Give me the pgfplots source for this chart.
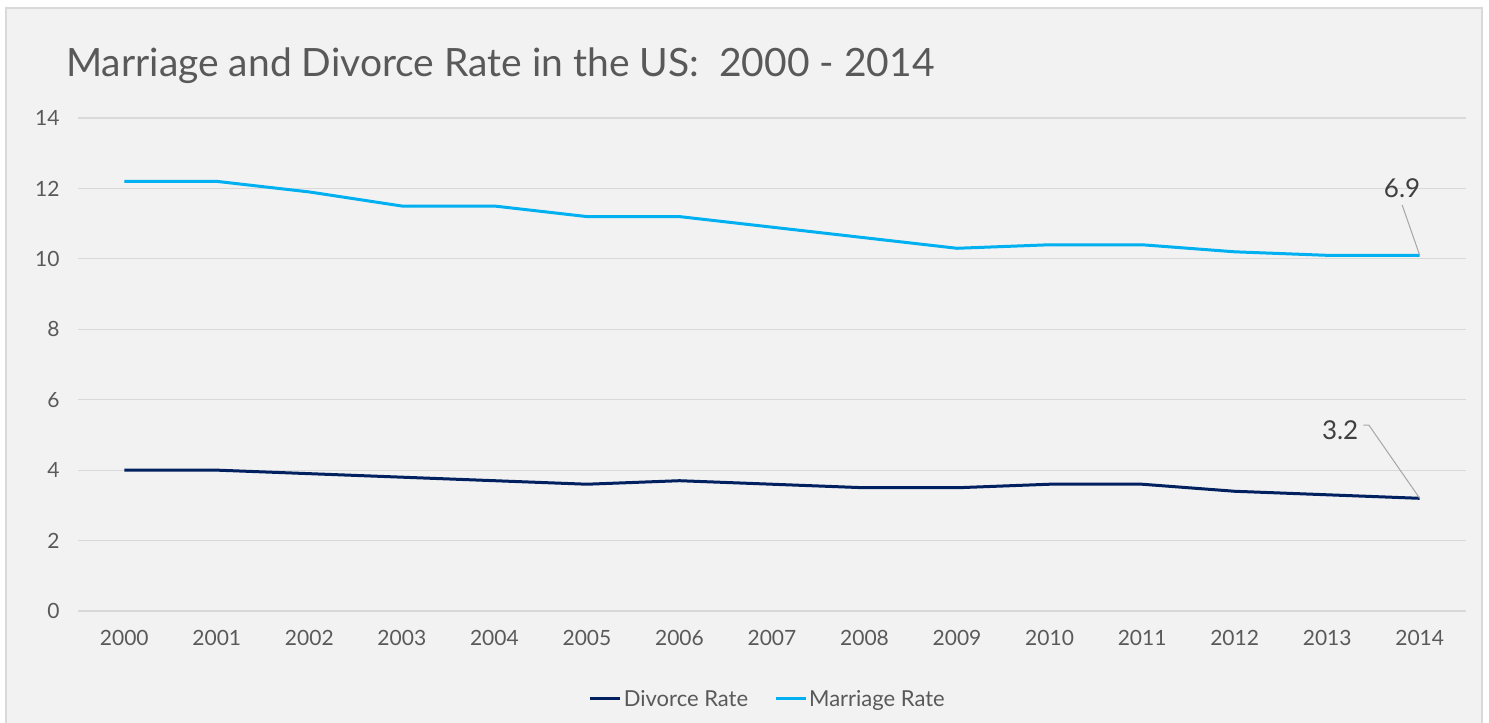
\documentclass[border=0pt]{standalone}
\usepackage{fontspec}
\setmainfont{Lato}
\usepackage{pgfplots}
\pgfplotsset{compat=1.18}
\definecolor{bg}{HTML}{F2F2F2}
\definecolor{bordercol}{HTML}{D9D9D9}
\definecolor{gridc}{HTML}{D9D9D9}
\definecolor{txt}{HTML}{595959}
\definecolor{lbl}{HTML}{404040}
\definecolor{marr}{HTML}{00B0F0}
\definecolor{divc}{HTML}{002060}
\definecolor{leader}{HTML}{A6A6A6}
\begin{document}
\begin{tikzpicture}[x=1pt,y=1pt]
\useasboundingbox (0,0) rectangle (1489,723);
\fill[white] (0,0) rectangle (1489,723);
\fill[bg] (6,0) rectangle (1482,715);
\draw[bordercol, line width=1.2pt] (6,0) -- (6,715) -- (1482,715) -- (1482,0);
\node[anchor=base west, font=\fontsize{39}{46}\selectfont, text=txt, inner sep=0pt] at (66,646) {Marriage and Divorce Rate in the US:\ \ 2000 - 2014};
\begin{axis}[
  at={(78pt,112pt)}, anchor=south west, scale only axis,
  width=1388pt, height=493pt,
  xmin=1999.5, xmax=2014.5, ymin=0, ymax=14,
  xtick={2000,2001,...,2014}, ytick={0,2,...,14},
  ymajorgrids, major grid style={draw=gridc, line width=1.2pt},
  axis line style={draw=none}, tick style={draw=none},
  ticklabel style={font=\fontsize{21}{25}\selectfont, text=txt},
  /pgf/number format/assume math mode=true,
  /pgf/number format/1000 sep={},
  yticklabel style={xshift=-15pt},
  xticklabel style={yshift=-16pt},
  legend style={at={(0.497,-0.1784)}, anchor=center, draw=none, fill=none,
    font=\fontsize{22}{26}\selectfont, text=txt,
    /tikz/column 2/.style={column sep=24pt},
    nodes={inner sep=2pt}},
  legend columns=2,
  legend image code/.code={\draw[#1] (0pt,0pt) -- (30pt,0pt);},
  clip=false,
]
\addplot[divc, line width=3pt, line join=round] coordinates {
(2000,4.0) (2001,4.0) (2002,3.9) (2003,3.8) (2004,3.7) (2005,3.6) (2006,3.7) (2007,3.6)
(2008,3.5) (2009,3.5) (2010,3.6) (2011,3.6) (2012,3.4) (2013,3.3) (2014,3.2)};
\addlegendentry{Divorce Rate}
\addplot[marr, line width=3pt, line join=round] coordinates {
(2000,12.2) (2001,12.2) (2002,11.9) (2003,11.5) (2004,11.5) (2005,11.2) (2006,11.2) (2007,10.9)
(2008,10.6) (2009,10.3) (2010,10.4) (2011,10.4) (2012,10.2) (2013,10.1) (2014,10.1)};
\addlegendentry{Marriage Rate}
\draw[leader, line width=1pt] (axis cs:2013.81,11.53) -- (axis cs:2014,10.1);
\node[font=\fontsize{26}{31}\selectfont, text=lbl] at (axis cs:2013.81,12.01) {6.9};
\draw[leader, line width=1pt] (axis cs:2013.39,5.28) -- (axis cs:2013.45,5.28) -- (axis cs:2014,3.2);
\node[font=\fontsize{26}{31}\selectfont, text=lbl] at (axis cs:2013.14,5.14) {3.2};
\end{axis}
\end{tikzpicture}
\end{document}
